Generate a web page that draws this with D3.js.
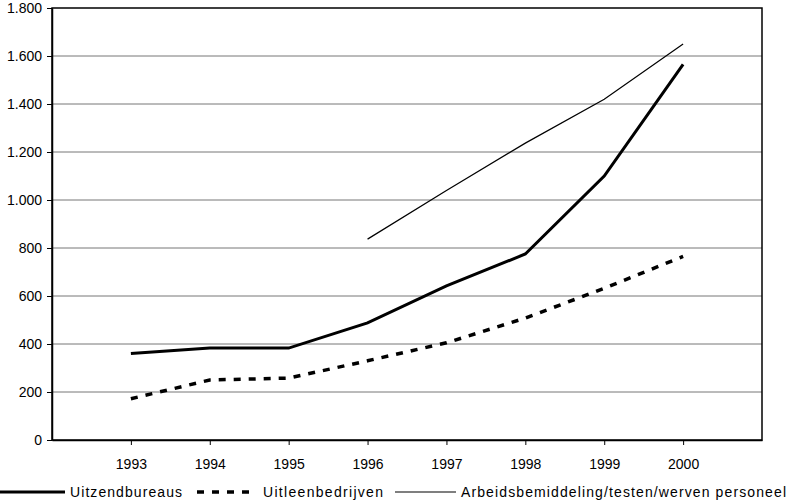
<!DOCTYPE html>
<html>
<head>
<script src="https://d3js.org/d3.v7.min.js"></script>
<style>
  body { margin: 0; background: #fff; }
  text { font-family: 'Liberation Sans', Arial, sans-serif; fill: #000; }
</style>
</head>
<body>
<svg id="chart" width="787" height="504"></svg>
<script>
// data
var years = [1993, 1994, 1995, 1996, 1997, 1998, 1999, 2000];
var uitzend = [360, 383, 383, 488, 642, 775, 1100, 1565];
var uitleen = [172, 250, 258, 330, 405, 508, 632, 765];
var arbeidsYears = [1996, 1997, 1998, 1999, 2000];
var arbeids = [837, 1040, 1237, 1420, 1650];
var yTicks = [0, 200, 400, 600, 800, 1000, 1200, 1400, 1600, 1800];

var svg = d3.select("#chart");
var plotLeft = 52, plotRight = 762, plotTop = 8, plotBottom = 440;

var x = d3.scalePoint()
    .domain(d3.range(1992, 2002))
    .range([plotLeft, plotRight]);
var y = d3.scaleLinear()
    .domain([0, 1800])
    .range([plotBottom, plotTop]);

var fmt = function (d) {
    return d3.format(",")(d).replace(/,/g, ".");
};

// gridlines
svg.append("g")
    .selectAll("line")
    .data(yTicks.slice(1, -1))
    .enter().append("line")
    .attr("x1", plotLeft).attr("x2", plotRight)
    .attr("y1", d => y(d)).attr("y2", d => y(d))
    .attr("stroke", "#777")
    .attr("stroke-width", 1);

// frame
svg.append("rect")
    .attr("x", plotLeft).attr("y", plotTop)
    .attr("width", plotRight - plotLeft).attr("height", plotBottom - plotTop)
    .attr("fill", "none")
    .attr("stroke", "#000")
    .attr("stroke-width", 1.5);

// y axis
var yAxis = d3.axisLeft(y)
    .tickValues(yTicks)
    .tickSize(5)
    .tickSizeOuter(0)
    .tickFormat(fmt);
var gy = svg.append("g")
    .attr("transform", "translate(" + plotLeft + ",0)")
    .call(yAxis);
gy.select(".domain").attr("stroke", "#000").attr("stroke-width", 1.5);
gy.selectAll("line").attr("stroke", "#000");
gy.selectAll("text")
    .attr("x", -10)
    .style("font-size", "14px")
    .style("font-family", "'Liberation Sans', Arial, sans-serif");

// x axis
var xAxis = d3.axisBottom(x)
    .tickValues(years)
    .tickSize(5)
    .tickSizeOuter(0)
    .tickFormat(d => d);
var gx = svg.append("g")
    .attr("transform", "translate(0," + plotBottom + ")")
    .call(xAxis);
gx.select(".domain").attr("stroke", "#000").attr("stroke-width", 1.5);
gx.selectAll("line").attr("stroke", "#000");
gx.selectAll("text")
    .attr("y", 19)
    .style("font-size", "14px")
    .style("font-family", "'Liberation Sans', Arial, sans-serif");

var line = d3.line()
    .x(d => x(d[0]))
    .y(d => y(d[1]));

svg.append("path")
    .datum(d3.zip(years, uitleen))
    .attr("d", line)
    .attr("fill", "none")
    .attr("stroke", "#000")
    .attr("stroke-width", 3.5)
    .attr("stroke-dasharray", "7,8");

svg.append("path")
    .datum(d3.zip(years, uitzend))
    .attr("d", line)
    .attr("fill", "none")
    .attr("stroke", "#000")
    .attr("stroke-width", 3);

svg.append("path")
    .datum(d3.zip(arbeidsYears, arbeids))
    .attr("d", line)
    .attr("fill", "none")
    .attr("stroke", "#000")
    .attr("stroke-width", 1.2);

// legend
var legend = [
    { name: "Uitzendbureaus", x1: 0, x2: 65, tx: 70, tw: 112, w: 3, dash: null },
    { name: "Uitleenbedrijven", x1: 197, x2: 252, tx: 263, tw: 120, w: 3.5, dash: "7,8" },
    { name: "Arbeidsbemiddeling/testen/werven personeel", x1: 395, x2: 456, tx: 461, tw: 325, w: 1.2, dash: null }
];
var lg = svg.append("g").attr("transform", "translate(0,492)");
legend.forEach(function (d) {
    lg.append("line")
        .attr("x1", d.x1).attr("x2", d.x2)
        .attr("y1", 0).attr("y2", 0)
        .attr("stroke", "#000")
        .attr("stroke-width", d.w)
        .attr("stroke-dasharray", d.dash);
    lg.append("text")
        .attr("x", d.tx)
        .attr("y", 5)
        .attr("textLength", d.tw)
        .attr("lengthAdjust", "spacing")
        .style("font-size", "14px")
        .text(d.name);
});
</script>
</body>
</html>
